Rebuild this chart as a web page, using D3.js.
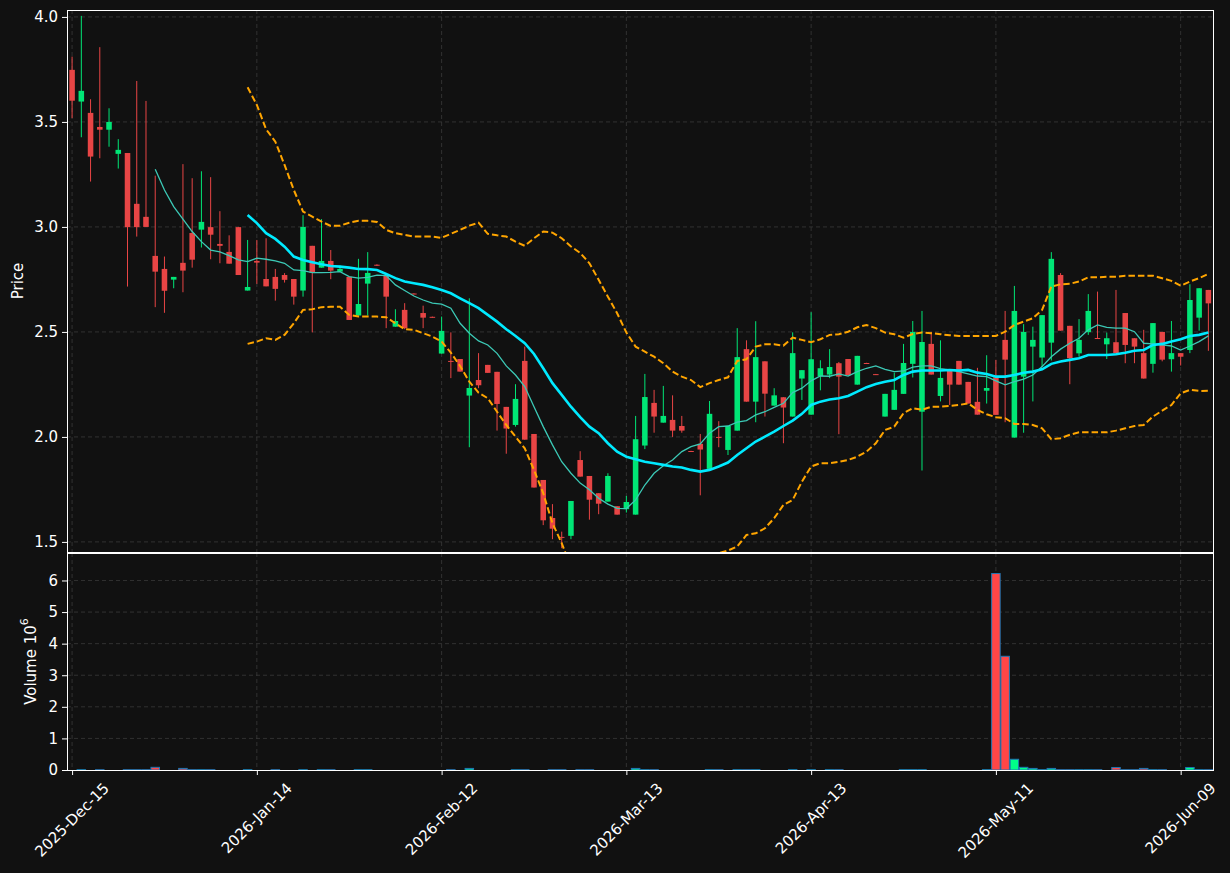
<!DOCTYPE html>
<html>
<head>
<meta charset="utf-8">
<script src="https://cdn.jsdelivr.net/npm/d3@7/dist/d3.min.js"></script>
<style>
body { margin:0; background:#111111; }
svg { display:block; font-family:"DejaVu Sans", sans-serif; }
</style>
</head>
<body>
<svg id="drawing_region"></svg>
<script>
// x ticks every 20 trading days
const tickIndex = [0, 20, 40, 60, 80, 100, 120];
const tickLabels = ["2025-Dec-15", "2026-Jan-14", "2026-Feb-12", "2026-Mar-13", "2026-Apr-13", "2026-May-11", "2026-Jun-09"];
const priceTicks = [1.5, 2.0, 2.5, 3.0, 3.5, 4.0];
const volumeTicks = [0, 1, 2, 3, 4, 5, 6];

// daily OHLC, 124 sessions
const openP = [3.748,3.597,3.543,3.476,3.463,3.348,3.352,3.110,3.048,2.862,2.800,2.749,2.829,2.971,2.987,2.999,2.919,2.881,2.999,2.697,
2.838,2.752,2.762,2.771,2.752,2.697,2.910,2.806,2.838,2.787,2.762,2.578,2.730,2.820,2.767,2.525,2.605,2.683,2.590,2.572,
2.397,2.362,2.371,2.197,2.271,2.343,2.310,2.143,2.057,2.362,2.014,1.795,1.614,1.524,1.529,1.890,1.814,1.732,1.692,1.670,
1.656,1.630,1.959,2.162,2.068,2.081,2.052,1.933,1.967,1.848,2.000,1.938,2.030,2.418,2.168,2.360,2.149,2.189,2.097,2.278,
2.106,2.289,2.297,2.351,2.371,2.249,2.352,2.299,2.097,2.129,2.205,2.348,2.120,2.443,2.195,2.314,2.362,2.262,2.167,2.220,
2.284,2.462,1.997,2.287,2.430,2.378,2.449,2.771,2.529,2.398,2.499,2.471,2.441,2.451,2.590,2.470,2.399,2.348,2.500,2.370,
2.399,2.414,2.568,2.700];
const highP = [3.811,4.005,3.608,3.856,3.565,3.418,3.352,3.695,3.600,3.244,2.859,2.762,3.299,3.232,3.265,3.237,3.075,2.960,3.000,2.938,
2.938,2.946,2.800,2.780,2.752,3.056,2.910,3.037,2.890,2.816,2.762,2.848,2.880,2.822,2.767,2.608,2.637,2.684,2.625,2.573,
2.573,2.498,2.371,2.660,2.399,2.343,2.310,2.143,2.251,2.430,2.014,1.795,1.680,1.549,1.695,1.932,1.814,1.732,1.827,1.670,
1.719,2.100,2.300,2.224,2.243,2.198,2.100,1.934,2.014,2.171,2.075,2.052,2.518,2.460,2.551,2.360,2.232,2.189,2.498,2.318,
2.594,2.365,2.418,2.357,2.371,2.386,2.353,2.300,2.205,2.306,2.443,2.552,2.600,2.500,2.460,2.314,2.362,2.262,2.329,2.389,
2.367,2.600,2.719,2.537,2.525,2.580,2.880,2.780,2.529,2.561,2.680,2.692,2.497,2.700,2.590,2.470,2.510,2.542,2.500,2.552,
2.399,2.727,2.708,2.700];
const lowP = [3.518,3.427,3.216,3.327,3.382,3.278,2.716,2.954,3.000,2.618,2.591,2.708,2.689,2.806,2.902,2.846,2.827,2.825,2.771,2.697,
2.729,2.717,2.649,2.735,2.630,2.668,2.498,2.806,2.751,2.787,2.557,2.578,2.578,2.814,2.518,2.525,2.513,2.679,2.518,2.568,
2.397,2.280,2.311,1.951,2.232,2.305,2.030,1.920,2.049,1.987,1.759,1.580,1.513,1.470,1.513,1.811,1.606,1.632,1.692,1.630,
1.640,1.630,1.942,2.020,2.068,2.000,2.020,1.930,1.722,1.848,1.951,1.914,2.030,2.168,2.070,2.097,2.149,1.970,2.097,2.176,
2.106,2.222,2.280,2.013,2.294,2.249,2.349,2.296,2.097,2.129,2.205,2.283,1.840,2.297,2.169,2.152,2.249,2.159,2.106,2.159,
2.105,2.070,1.997,2.020,2.169,2.335,2.364,2.506,2.251,2.382,2.486,2.467,2.371,2.399,2.351,2.351,2.278,2.306,2.360,2.311,
2.340,2.399,2.506,2.410];
const closeP = [3.601,3.648,3.335,3.463,3.500,3.367,2.999,2.999,3.000,2.787,2.696,2.762,2.792,2.844,3.024,2.963,2.910,2.825,2.771,2.714,
2.830,2.717,2.705,2.748,2.668,3.000,2.782,2.838,2.792,2.800,2.557,2.633,2.781,2.816,2.668,2.552,2.518,2.681,2.568,2.570,
2.505,2.360,2.311,2.233,2.246,2.305,2.157,2.040,2.181,1.987,1.759,1.603,1.563,1.522,1.695,1.811,1.701,1.682,1.814,1.630,
1.690,1.989,2.190,2.097,2.100,2.030,2.030,1.932,1.940,2.110,1.998,2.052,2.380,2.168,2.380,2.206,2.198,2.140,2.399,2.318,
2.370,2.327,2.333,2.287,2.294,2.386,2.351,2.298,2.205,2.224,2.352,2.500,2.452,2.297,2.281,2.249,2.249,2.159,2.106,2.233,
2.105,2.368,2.600,2.500,2.462,2.580,2.848,2.506,2.375,2.462,2.600,2.467,2.470,2.399,2.438,2.430,2.278,2.542,2.368,2.399,
2.382,2.652,2.708,2.636];

// volume in millions
const volume = [0,0.01,0,0.01,0,0,0.01,0.01,0.01,0.085,0,0,0.05,0.01,0.01,0.01,0,0,0,0.01,
0,0,0.01,0,0,0.01,0,0.01,0.01,0,0,0.01,0.01,0,0,0,0,0,0,0,
0,0.01,0,0.05,0,0,0,0,0.01,0.01,0,0,0.01,0.01,0,0.01,0.01,0,0,0,
0,0.05,0.01,0.01,0,0,0,0,0,0.01,0.01,0,0.01,0.01,0.01,0,0,0,0.01,0,
0.01,0,0.01,0.01,0,0,0,0,0,0,0.01,0.01,0.01,0,0,0,0,0,0,0.01,
6.22,3.60,0.34,0.085,0.05,0.01,0.05,0.01,0.01,0.01,0.01,0.01,0,0.08,0.01,0.01,0.05,0.01,0.01,0,
0,0.08,0.01,0.01];

// 10-day average, starts at index 9
const ma10Start = 9;
const ma10 = [3.275,3.176,3.097,3.037,2.978,2.930,2.890,2.881,2.863,2.843,2.835,2.851,2.846,2.838,2.827,2.795,2.792,2.782,2.782,2.784,
2.787,2.763,2.756,2.760,2.770,2.768,2.724,2.697,2.671,2.652,2.637,2.632,2.613,2.541,2.494,2.457,2.438,2.398,2.338,2.295,
2.240,2.144,2.049,1.962,1.882,1.827,1.780,1.748,1.708,1.680,1.660,1.659,1.700,1.771,1.827,1.863,1.890,1.930,1.954,1.967,
2.018,2.049,2.052,2.070,2.078,2.105,2.120,2.141,2.160,2.211,2.232,2.267,2.290,2.289,2.300,2.290,2.311,2.327,2.338,2.322,
2.311,2.314,2.332,2.338,2.338,2.325,2.319,2.311,2.300,2.290,2.287,2.267,2.248,2.263,2.275,2.295,2.335,2.382,2.418,2.446,
2.470,2.510,2.533,2.522,2.518,2.518,2.501,2.446,2.443,2.438,2.433,2.414,2.433,2.454,2.481];

// 20-day average and bands, start at index 19
const ma20Start = 19;
const ma20 = [3.057,3.018,2.970,2.943,2.906,2.859,2.843,2.832,2.822,2.814,2.811,2.806,2.800,2.799,2.795,2.776,2.756,2.740,2.732,2.724,
2.713,2.700,2.684,2.660,2.637,2.613,2.581,2.549,2.513,2.481,2.446,2.395,2.327,2.256,2.200,2.144,2.094,2.049,2.018,1.970,
1.930,1.906,1.894,1.882,1.875,1.867,1.859,1.854,1.843,1.835,1.843,1.859,1.878,1.914,1.946,1.978,2.001,2.025,2.052,2.078,
2.110,2.152,2.168,2.178,2.184,2.195,2.216,2.237,2.252,2.263,2.271,2.295,2.311,2.316,2.316,2.316,2.319,2.316,2.319,2.306,
2.300,2.287,2.287,2.295,2.306,2.311,2.322,2.348,2.359,2.367,2.375,2.390,2.390,2.390,2.394,2.401,2.410,2.414,2.438,2.443,
2.454,2.465,2.481,2.486,2.497];
const bandUpper = [3.665,3.581,3.465,3.406,3.295,3.176,3.073,3.049,3.025,3.005,3.006,3.020,3.029,3.029,3.024,2.986,2.970,2.962,2.954,2.954,
2.954,2.948,2.967,2.986,3.006,3.020,2.967,2.960,2.954,2.930,2.910,2.946,2.978,2.973,2.946,2.907,2.876,2.827,2.748,2.668,
2.589,2.497,2.430,2.406,2.382,2.351,2.311,2.287,2.271,2.237,2.256,2.271,2.284,2.362,2.370,2.430,2.441,2.441,2.435,2.473,
2.462,2.451,2.465,2.486,2.489,2.501,2.522,2.533,2.518,2.497,2.489,2.473,2.490,2.497,2.494,2.489,2.484,2.481,2.481,2.481,
2.481,2.481,2.501,2.533,2.549,2.565,2.605,2.716,2.727,2.729,2.740,2.760,2.760,2.763,2.763,2.767,2.768,2.768,2.768,2.756,
2.743,2.720,2.740,2.756,2.776];
const bandLower = [2.443,2.454,2.470,2.462,2.486,2.541,2.605,2.608,2.618,2.620,2.620,2.581,2.573,2.573,2.573,2.570,2.541,2.513,2.510,2.494,
2.478,2.454,2.401,2.338,2.263,2.211,2.184,2.120,2.057,2.001,1.946,1.843,1.732,1.589,1.494,1.381,1.312,1.271,1.288,1.272,
1.271,1.315,1.358,1.358,1.368,1.383,1.407,1.421,1.415,1.433,1.430,1.447,1.459,1.478,1.533,1.541,1.565,1.613,1.676,1.700,
1.787,1.859,1.875,1.875,1.882,1.890,1.906,1.930,1.970,2.033,2.049,2.113,2.137,2.129,2.144,2.144,2.148,2.152,2.160,2.129,
2.108,2.094,2.089,2.062,2.062,2.057,2.041,1.989,1.994,2.010,2.022,2.022,2.022,2.022,2.030,2.041,2.052,2.057,2.097,2.125,
2.152,2.208,2.224,2.219,2.220];

const data = openP.map((o, i) => ({
  i: i, o: o, h: highP[i], l: lowP[i], c: closeP[i], v: volume[i]
}));

class CandleChart {
  constructor(config, data) {
    this.config = config;
    this.data = data;
    this.init();
  }

  init() {
    let self = this;
    const c = self.config;
    self.svg = d3.select(c.parent)
      .attr('width', c.width)
      .attr('height', c.height);

    self.xscale = d3.scaleLinear()
      .domain([-0.55, 123.5])
      .range([c.left, c.right]);
    self.yscale = d3.scaleLinear()
      .domain([1.452, 4.033])
      .range([c.priceBottom, c.priceTop]);
    self.vscale = d3.scaleLinear()
      .domain([0, 6.87])
      .range([c.volBottom, c.volTop]);

    self.svg.append('clipPath').attr('id', 'priceClip')
      .append('rect')
      .attr('x', c.left).attr('y', c.priceTop)
      .attr('width', c.right - c.left)
      .attr('height', c.priceBottom - c.priceTop);
  }

  render() {
    let self = this;
    const c = self.config;
    const step = self.xscale(1) - self.xscale(0);
    const fs = 15;

    // grid
    const grid = self.svg.append('g')
      .attr('stroke', '#3a3a3a')
      .attr('stroke-width', 0.8)
      .attr('stroke-dasharray', '4,3');
    tickIndex.forEach(t => {
      grid.append('line')
        .attr('x1', self.xscale(t)).attr('x2', self.xscale(t))
        .attr('y1', c.priceTop).attr('y2', c.priceBottom);
      grid.append('line')
        .attr('x1', self.xscale(t)).attr('x2', self.xscale(t))
        .attr('y1', c.volTop).attr('y2', c.volBottom);
    });
    priceTicks.forEach(p => {
      grid.append('line')
        .attr('x1', c.left).attr('x2', c.right)
        .attr('y1', self.yscale(p)).attr('y2', self.yscale(p));
    });
    volumeTicks.slice(1).forEach(v => {
      grid.append('line')
        .attr('x1', c.left).attr('x2', c.right)
        .attr('y1', self.vscale(v)).attr('y2', self.vscale(v));
    });

    // candles
    const up = '#00e676', down = '#e84545';
    const candles = self.svg.append('g').attr('clip-path', 'url(#priceClip)');
    candles.selectAll('.wick')
      .data(self.data)
      .enter()
      .append('line')
      .attr('x1', d => self.xscale(d.i))
      .attr('x2', d => self.xscale(d.i))
      .attr('y1', d => self.yscale(d.h))
      .attr('y2', d => self.yscale(d.l))
      .attr('stroke', d => d.c >= d.o ? up : down)
      .attr('stroke-width', 1);
    const bw = step * 0.6;
    candles.selectAll('.body')
      .data(self.data)
      .enter()
      .append('rect')
      .attr('x', d => self.xscale(d.i) - bw / 2)
      .attr('width', bw)
      .attr('y', d => self.yscale(Math.max(d.o, d.c)))
      .attr('height', d => Math.max(1, Math.abs(self.yscale(d.o) - self.yscale(d.c))))
      .attr('fill', d => d.c >= d.o ? up : down);

    // overlay lines
    const lineFor = start => d3.line()
      .x((d, k) => self.xscale(k + start))
      .y(d => self.yscale(d));
    const lines = self.svg.append('g').attr('clip-path', 'url(#priceClip)');
    lines.append('path').datum(ma10)
      .attr('d', lineFor(ma10Start))
      .attr('fill', 'none')
      .attr('stroke', '#3cc9b6')
      .attr('stroke-width', 1.3);
    lines.append('path').datum(ma20)
      .attr('d', lineFor(ma20Start))
      .attr('fill', 'none')
      .attr('stroke', '#00eaff')
      .attr('stroke-width', 2.6);
    [bandUpper, bandLower].forEach(b => {
      lines.append('path').datum(b)
        .attr('d', lineFor(ma20Start))
        .attr('fill', 'none')
        .attr('stroke', '#ffa500')
        .attr('stroke-width', 2)
        .attr('stroke-dasharray', '6.5,3');
    });

    // volume bars
    const vw = step * 0.92;
    self.svg.append('g').selectAll('rect')
      .data(self.data.filter(d => d.v > 0))
      .enter()
      .append('rect')
      .attr('x', d => self.xscale(d.i) - vw / 2)
      .attr('width', vw)
      .attr('y', d => self.vscale(d.v))
      .attr('height', d => self.vscale(0) - self.vscale(d.v))
      .attr('fill', d => d.c >= d.o ? '#00ff88' : '#ff4646')
      .attr('stroke', '#1f77b4')
      .attr('stroke-width', 1);

    // frames
    const frame = self.svg.append('g')
      .attr('fill', 'none').attr('stroke', '#ffffff').attr('stroke-width', 1)
      .attr('shape-rendering', 'crispEdges');
    frame.append('rect')
      .attr('x', c.left).attr('y', c.priceTop)
      .attr('width', c.right - c.left).attr('height', c.priceBottom - c.priceTop);
    frame.append('rect')
      .attr('x', c.left).attr('y', c.volTop)
      .attr('width', c.right - c.left).attr('height', c.volBottom - c.volTop);

    // axes
    const yaxis = d3.axisLeft(self.yscale)
      .tickValues(priceTicks).tickFormat(d3.format('.1f'))
      .tickSize(5).tickPadding(4);
    const vaxis = d3.axisLeft(self.vscale)
      .tickValues(volumeTicks).tickFormat(d3.format('d'))
      .tickSize(5).tickPadding(4);
    const xaxis = d3.axisBottom(self.xscale)
      .tickValues(tickIndex).tickFormat('')
      .tickSize(5);
    const styleAxis = g => {
      g.select('.domain').remove();
      g.selectAll('line').attr('stroke', '#ffffff');
      g.selectAll('text')
        .attr('fill', '#ffffff')
        .attr('font-size', fs)
        .attr('font-family', '"DejaVu Sans", sans-serif');
    };
    self.svg.append('g').attr('transform', `translate(${c.left},0)`).call(yaxis).call(styleAxis);
    self.svg.append('g').attr('transform', `translate(${c.left},0)`).call(vaxis).call(styleAxis);
    self.svg.append('g').attr('transform', `translate(0,${c.volBottom})`).call(xaxis).call(styleAxis);

    // rotated date labels, centred under the tick
    tickIndex.forEach((t, k) => {
      const tx = self.xscale(t);
      const label = self.svg.append('text')
        .attr('fill', '#ffffff')
        .attr('font-size', fs)
        .attr('text-anchor', 'middle')
        .attr('dominant-baseline', 'central')
        .text(tickLabels[k]);
      const len = label.node().getComputedTextLength();
      const cy = c.volBottom + 10 + (len + 16) * Math.SQRT1_2 / 2;
      label.attr('x', tx).attr('y', cy)
        .attr('transform', `rotate(-45,${tx},${cy})`);
    });

    // axis titles
    const py = (c.priceTop + c.priceBottom) / 2;
    self.svg.append('text')
      .attr('x', 18).attr('y', py)
      .attr('fill', '#ffffff').attr('font-size', fs)
      .attr('text-anchor', 'middle').attr('dominant-baseline', 'central')
      .attr('transform', `rotate(-90,18,${py})`)
      .text('Price');
    const vy = (c.volTop + c.volBottom) / 2;
    const vt = self.svg.append('text')
      .attr('x', 31).attr('y', vy)
      .attr('fill', '#ffffff').attr('font-size', fs)
      .attr('text-anchor', 'middle').attr('dominant-baseline', 'central')
      .attr('transform', `rotate(-90,31,${vy})`);
    vt.append('tspan').text('Volume  10');
    vt.append('tspan').attr('dy', -7).attr('font-size', 11).text('6');
  }
}

const config = {
  parent: '#drawing_region',
  width: 1230, height: 873,
  left: 67, right: 1213,
  priceTop: 10, priceBottom: 552,
  volTop: 553, volBottom: 770
};
const chart = new CandleChart(config, data);
chart.render();
</script>
</body>
</html>
